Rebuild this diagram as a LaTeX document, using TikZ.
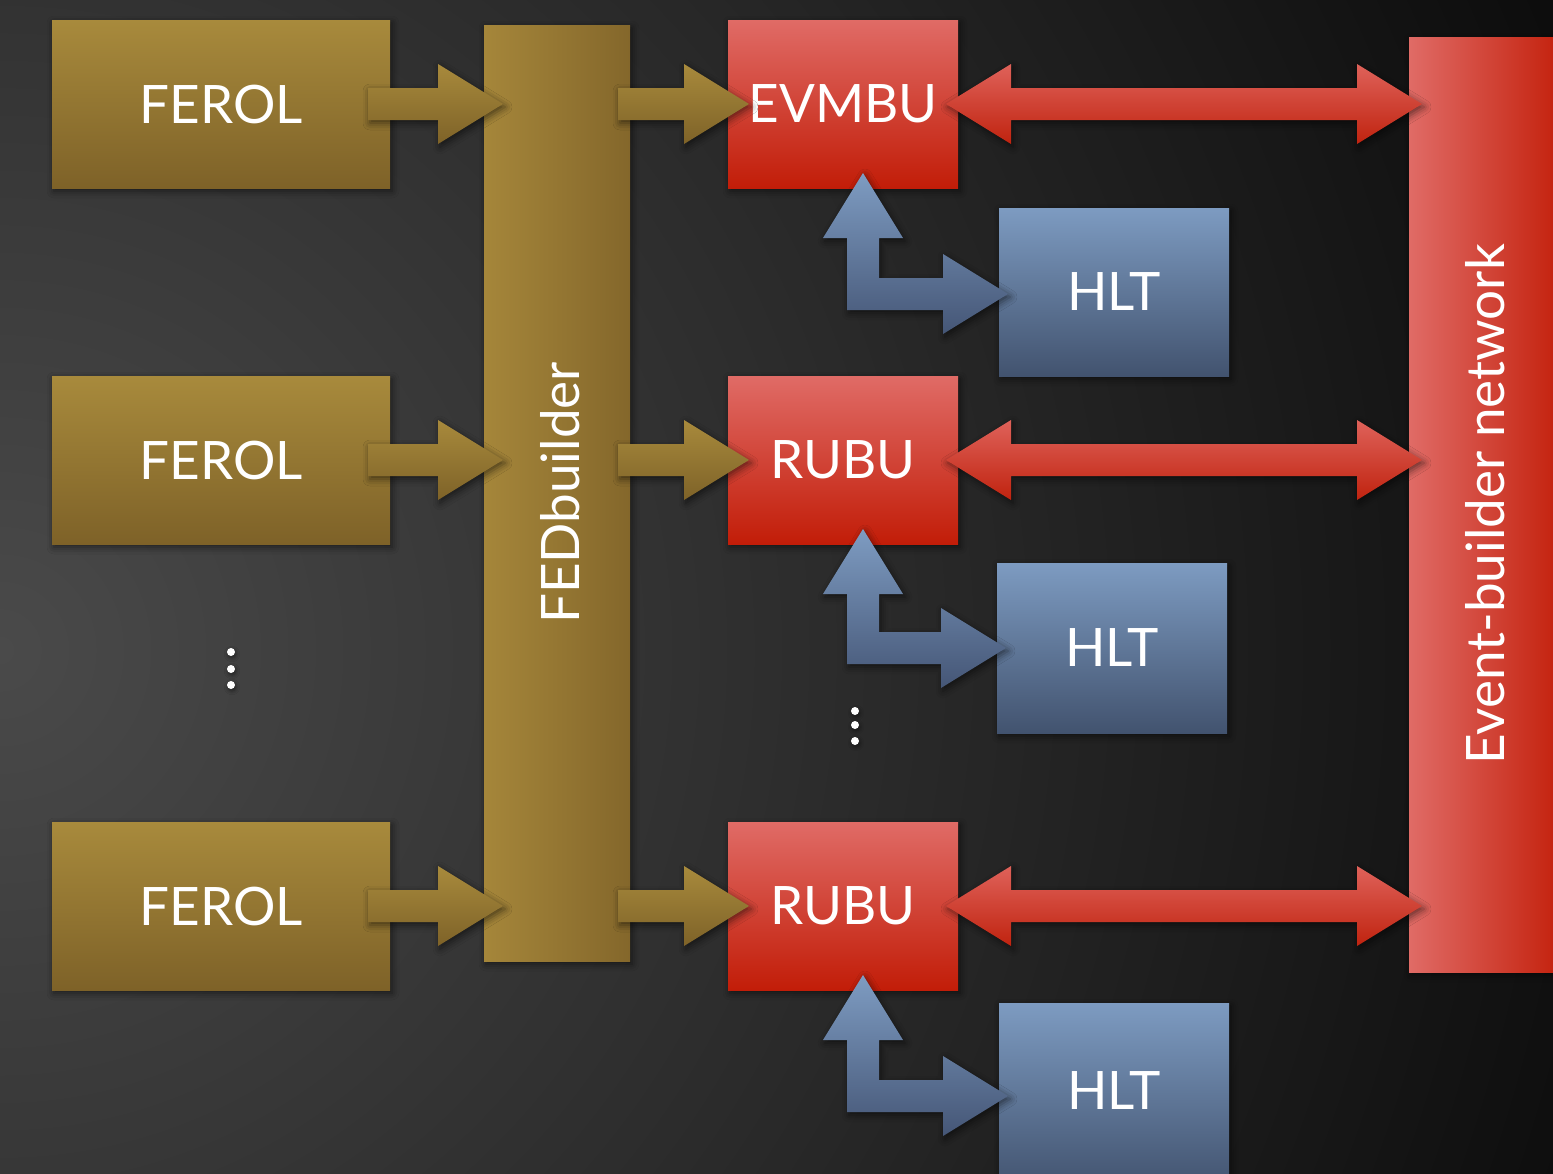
\documentclass[tikz,border=0pt]{standalone}
\usepackage{fontspec}
\setmainfont{Lato}
\usetikzlibrary{calc,shadows.blur}

\definecolor{bgIn}{HTML}{4A4A4A}
\definecolor{bgOut}{HTML}{0C0C0C}
\definecolor{goldT}{HTML}{A88A3C}
\definecolor{goldB}{HTML}{7E6228}
\definecolor{goldL}{HTML}{A5863A}
\definecolor{goldR}{HTML}{84672B}
\definecolor{redT}{HTML}{E06B66}
\definecolor{redB}{HTML}{C21D08}
\definecolor{redAT}{HTML}{DF625A}
\definecolor{redAB}{HTML}{C0230F}
\definecolor{blueT}{HTML}{7D9BC1}
\definecolor{blueB}{HTML}{42536F}
\definecolor{blueAT}{HTML}{7E9CC2}
\definecolor{blueAB}{HTML}{455676}

% rightward block arrow: tail point #2, tip point #3
\newcommand\blockR[3]{%
  \shade[#1] let \p1=(#2), \p2=(#3) in
    (\x1,\y2+16pt) -- (\x2-65pt,\y2+16pt) -- (\x2-65pt,\y2+40pt) -- (\x2,\y2)
    -- (\x2-65pt,\y2-40pt) -- (\x2-65pt,\y2-16pt) -- (\x1,\y2-16pt) -- cycle;}
% two-headed horizontal block arrow between tips #2 and #3
\newcommand\blockLR[3]{%
  \shade[#1] let \p1=(#2), \p2=(#3) in
    (\x1,\y1) -- (\x1+65pt,\y1+40pt) -- (\x1+65pt,\y1+16pt) -- (\x2-65pt,\y1+16pt)
    -- (\x2-65pt,\y1+40pt) -- (\x2,\y1) -- (\x2-65pt,\y1-40pt) -- (\x2-65pt,\y1-16pt)
    -- (\x1+65pt,\y1-16pt) -- (\x1+65pt,\y1-40pt) -- cycle;}
% L-shaped block arrow: upward tip #2, rightward tip #3
\newcommand\blockL[3]{%
  \shade[#1] let \p1=(#2), \p2=(#3) in
    (\x1,\y1) -- (\x1+40pt,\y1-65pt) -- (\x1+16pt,\y1-65pt) -- (\x1+16pt,\y2+16pt)
    -- (\x2-65pt,\y2+16pt) -- (\x2-65pt,\y2+40pt) -- (\x2,\y2) -- (\x2-65pt,\y2-40pt)
    -- (\x2-65pt,\y2-16pt) -- (\x1-16pt,\y2-16pt) -- (\x1-16pt,\y1-65pt)
    -- (\x1-40pt,\y1-65pt) -- cycle;}

\tikzset{
  every node/.style={inner sep=0pt, outer sep=0pt},
  softshadow/.style={blur shadow={shadow xshift=2pt, shadow yshift=-3pt,
      shadow blur radius=7pt, shadow opacity=55}},
  labelfont/.style={text=white, font=\fontsize{53}{56}\selectfont},
  boxbase/.style={anchor=north west, minimum height=168pt, labelfont, softshadow},
  ferol/.style={boxbase, minimum width=338pt, top color=goldT, bottom color=goldB},
  bu/.style={boxbase, minimum width=230pt, top color=redT, bottom color=redB},
  hlt/.style={boxbase, minimum width=230pt, top color=blueT, bottom color=blueB},
  fedbox/.style={boxbase, minimum width=146pt, minimum height=936pt,
      left color=goldL, right color=goldR},
  netbox/.style={boxbase, minimum width=160pt, minimum height=935pt,
      left color=redT, right color=redB},
  vlabel/.style={rotate=90, labelfont},
  goldarrow/.style={top color=goldT, bottom color=goldB, softshadow},
  redarrow/.style={top color=redAT, bottom color=redAB, softshadow},
  bluearrow/.style={top color=blueAT, bottom color=blueAB, softshadow},
  dot/.style={circle, fill=white, minimum size=8pt,
      blur shadow={shadow xshift=1pt, shadow yshift=-2pt, shadow blur radius=4pt, shadow opacity=50}},
}

\begin{document}
\begin{tikzpicture}[x=1pt,y=-1pt]
\useasboundingbox (0,0) rectangle (1553,1173);
\clip (0,0) rectangle (1553,1173);

% background
\shade[inner color=bgIn, outer color=bgOut] (0,650) circle (1700);

% readout units
\node[ferol] (f1) at (52,20)  {FEROL};
\node[ferol] (f2) at (52,376) {FEROL};
\node[ferol] (f3) at (52,822) {FEROL};

% FED builder
\node[fedbox] (fed) at (484,25) {};
\node[vlabel] (fedlbl) at ($(fed.center)+(3,0)$) {FEDbuilder};

% builder units
\node[bu] (ev) at (728,20)  {EVMBU};
\node[bu] (ru1) at (728,376) {RUBU};
\node[bu] (ru2) at (728,822) {RUBU};

% filter farm
\node[hlt] (h1) at (999,208) {HLT};
\node[hlt, minimum height=170pt] (h2) at (997,563) {HLT};
\node[hlt, minimum height=186pt, text depth=12pt] (h3) at (999,1003) {HLT};

% event-builder network
\node[netbox] (net) at (1409,37) {};
\node[vlabel] (netlbl) at ($(net.center)+(-4,0)$) {Event-builder network};

% FEROL -> FEDbuilder
\blockR{goldarrow}{$(f1.east)+(-22,0)$}{$(fed.west |- f1.east)+(19,0)$}
\blockR{goldarrow}{$(f2.east)+(-22,0)$}{$(fed.west |- f2.east)+(19,0)$}
\blockR{goldarrow}{$(f3.east)+(-22,0)$}{$(fed.west |- f3.east)+(19,0)$}

% FEDbuilder -> BU
\blockR{goldarrow}{$(fed.east |- ev.west)+(-12,0)$}{$(ev.west)+(21,0)$}
\blockR{goldarrow}{$(fed.east |- ru1.west)+(-12,0)$}{$(ru1.west)+(21,0)$}
\blockR{goldarrow}{$(fed.east |- ru2.west)+(-12,0)$}{$(ru2.west)+(21,0)$}

% BU <-> network
\blockLR{redarrow}{$(ev.east)+(-12,0)$}{$(net.west |- ev.east)+(13,0)$}
\blockLR{redarrow}{$(ru1.east)+(-12,0)$}{$(net.west |- ru1.east)+(13,0)$}
\blockLR{redarrow}{$(ru2.east)+(-12,0)$}{$(net.west |- ru2.east)+(13,0)$}

% BU <-> HLT
\blockL{bluearrow}{$(ev.south)+(20,-15)$}{$(h1.west)+(9,2)$}
\blockL{bluearrow}{$(ru1.south)+(20,-15)$}{$(h2.west)+(9,0)$}
\blockL{bluearrow}{$(ru2.south)+(20,-15)$}{$(h3.west)+(9,0)$}

% ellipses
\node[dot] (ld1) at (231,652) {};
\node[dot] (ld2) at (231,669) {};
\node[dot] (ld3) at (231,685) {};
\node[dot] (md1) at (855,711) {};
\node[dot] (md2) at (855,725) {};
\node[dot] (md3) at (855,741) {};
\end{tikzpicture}
\end{document}
